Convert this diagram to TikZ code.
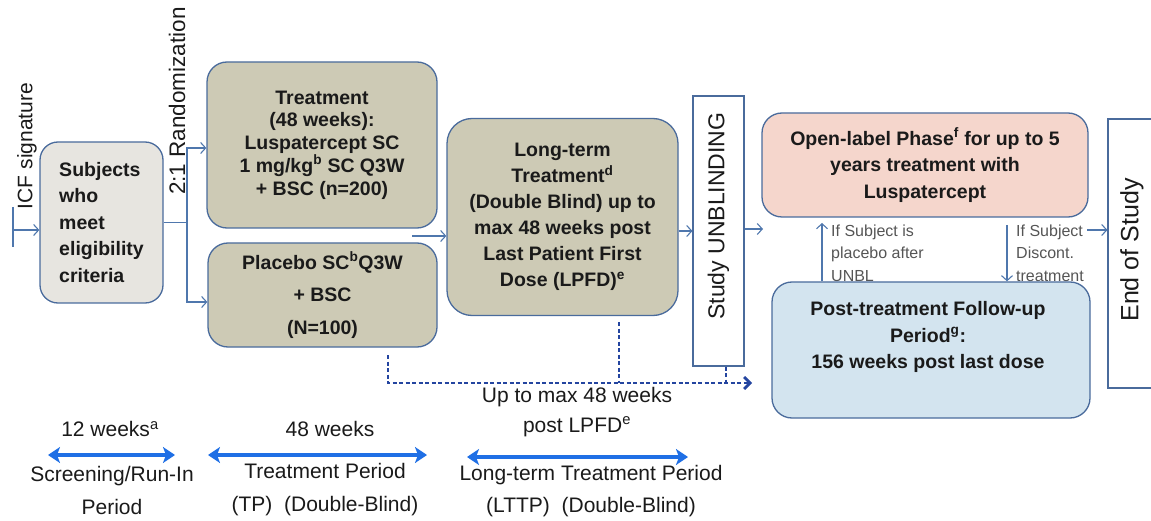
\documentclass[tikz,border=0pt]{standalone}
\usepackage{fontspec}
\setmainfont{Liberation Sans}
\usetikzlibrary{arrows.meta}
\definecolor{bordc}{HTML}{4A6B9C}
\definecolor{connc}{HTML}{4F77AD}
\definecolor{olivec}{HTML}{CDCAB5}
\definecolor{subjc}{HTML}{E7E5E0}
\definecolor{salmonc}{HTML}{F5D6CC}
\definecolor{lbluec}{HTML}{D3E4EF}
\definecolor{dashc}{HTML}{2445A0}
\definecolor{tlc}{HTML}{1F6FE5}
\definecolor{txtc}{HTML}{1A1A1A}
\definecolor{grayt}{HTML}{555555}
\begin{document}
\begin{tikzpicture}[x=1pt,y=-1pt,
  box/.style={draw=bordc, line width=1.3pt, rounded corners=20pt, align=center, inner sep=0pt, text=txtc, font=\bfseries\fontsize{19.5}{23}\selectfont},
  plainbox/.style={draw=bordc, line width=1.1pt, fill=white, inner sep=0pt},
  conn/.style={draw=connc, line width=1.1pt, -{Straight Barb[length=5pt,width=11pt]}},
  dashl/.style={draw=dashc, line width=2.7pt, dash pattern=on 4pt off 2.5pt},
  tl/.style={draw=tlc, line width=3.8pt, {Stealth[length=12pt,width=16pt,inset=3pt]}-{Stealth[length=12pt,width=16pt,inset=3pt]}},
  tltext/.style={align=center, text=txtc, inner sep=0pt, font=\fontsize{21}{33}\selectfont},
  smalltxt/.style={align=left, text=grayt, inner sep=0pt, font=\fontsize{16}{22.5}\selectfont},
  vtext/.style={rotate=90, inner sep=0pt, text=txtc}
]
\useasboundingbox (0,0) rectangle (1151,521);

% small labels (drawn first, partly covered by box)
\node[smalltxt, anchor=west] (lblup) at (831,253) {If Subject is\\placebo after\\UNBL};
\node[smalltxt, anchor=west] (lbldn) at (1016,253) {If Subject\\Discont.\\treatment};

% boxes
\node[box, fill=subjc, rounded corners=18pt, minimum width=123pt, minimum height=161pt, align=left,
      font=\bfseries\fontsize{19.5}{26.5}\selectfont] (subj) at (101.5,222.5)
      {Subjects\\who\\meet\\eligibility\\criteria};
\node[box, fill=olivec, minimum width=230pt, minimum height=166pt,
      font=\bfseries\fontsize{19.5}{22.7}\selectfont] (treat) at (322,145)
      {Treatment\\(48 weeks):\\Luspatercept SC\\1 mg/kg\textsuperscript{b} SC Q3W\\+ BSC (n=200)};
\node[box, fill=olivec, minimum width=229pt, minimum height=104pt,
      font=\bfseries\fontsize{19.5}{32.5}\selectfont] (plac) at (322.5,295)
      {Placebo SC\textsuperscript{b}Q3W\\+ BSC\\(N=100)};
\node[box, fill=olivec, rounded corners=25pt, minimum width=231pt, minimum height=197pt,
      font=\bfseries\fontsize{19.5}{26}\selectfont] (lt) at (562.5,217)
      {Long-term\\Treatment\textsuperscript{d}\\(Double Blind) up to\\max 48 weeks post\\Last Patient First\\Dose (LPFD)\textsuperscript{e}};
\node[plainbox, minimum width=51pt, minimum height=270pt] (unbl) at (718.5,231) {};
\node[vtext, font=\fontsize{23}{23}\selectfont] (unbltxt) at (718.5,216) {Study UNBLINDING};
\node[box, fill=salmonc, minimum width=326pt, minimum height=104pt,
      font=\bfseries\fontsize{19.5}{26.5}\selectfont] (open) at (925,165)
      {Open-label Phase\textsuperscript{f} for up to 5\\years treatment with\\Luspatercept};
\node[box, fill=lbluec, minimum width=318pt, minimum height=136pt] (post) at (931,350) {};
\node[align=center, inner sep=0pt, text=txtc, font=\bfseries\fontsize{19.5}{26.5}\selectfont] (posttxt) at (928,337)
      {Post-treatment Follow-up\\Period\textsuperscript{g}:\\156 weeks post last dose};
\node[plainbox, minimum width=52pt, minimum height=269pt] (eos) at (1134,253.5) {};
\node[vtext, font=\fontsize{25}{25}\selectfont] (eostxt) at (1132,250) {End of Study};

% rotated side labels
\node[vtext, font=\fontsize{21}{21}\selectfont] (icftxt) at (27,146) {ICF signature};
\node[vtext, anchor=west, font=\fontsize{22.5}{22.5}\selectfont] (randtxt) at (177,195) {2:1 Randomization};

% connectors
\coordinate (icf) at (13,230);
\draw[draw=connc, line width=1.1pt] (13,207) -- (13,247);
\draw[conn] (icf) -- (icf -| subj.west);
\coordinate (br) at (187,222.5);
\draw[draw=connc, line width=1.1pt] (subj.east) -- (br);
\draw[conn] (br) |- ([yshift=-3pt]treat.west);
\draw[conn] (br) |- ([yshift=-7pt]plac.west);
\coordinate (ta) at (412,236);
\draw[conn] (ta) -- (ta -| lt.west);
\draw[conn] (lt.east |- unbl.west) -- (unbl.west);
\coordinate (gapin) at (763,229);
\draw[conn] (unbl.east |- gapin) -- (gapin);
\coordinate (upend) at (822,223);
\draw[conn] (upend |- post.north) -- (upend);
\coordinate (dnstart) at (1007,225);
\draw[conn] (dnstart) -- (dnstart |- post.north);
\coordinate (eosin) at (1087,230);
\draw[conn] (eosin) -- (eosin -| eos.west);

% dashed lines
\coordinate (d1) at (388,355);
\coordinate (dend) at (752,383);
\draw[dashl, -{Straight Barb[length=6pt,width=12pt]}] (d1) -- (d1 |- dend) -- (dend);
\coordinate (d2) at (619,322);
\draw[dashl] (d2) -- (d2 |- dend);
\coordinate (d3) at (726,386);
\draw[dashl] (unbl.south -| d3) -- (d3);

% timeline
\coordinate (a1) at (48,455); \coordinate (a2) at (175,455);
\coordinate (b1) at (208,455); \coordinate (b2) at (427,455);
\coordinate (c1) at (467,457); \coordinate (c2) at (688,457);
\draw[tl] (a1) -- (a2);
\draw[tl] (b1) -- (b2);
\draw[tl] (c1) -- (c2);
\node[tltext] (w12) at (110,429) {12 weeks\textsuperscript{a}};
\node[tltext] (w48) at (330,429) {48 weeks};
\node[tltext, font=\fontsize{21}{30}\selectfont] (wup) at (577,412) {Up to max 48 weeks\\post LPFD\textsuperscript{e}};
\node[tltext] (scr) at (112,490) {Screening/Run-In\\Period};
\node[tltext] (tp) at (325,490) {Treatment Period\\(TP)~~(Double-Blind)};
\node[tltext, font=\fontsize{21}{32}\selectfont] (lttp) at (591,491) {Long-term Treatment Period\\(LTTP)~~(Double-Blind)};
\end{tikzpicture}
\end{document}
